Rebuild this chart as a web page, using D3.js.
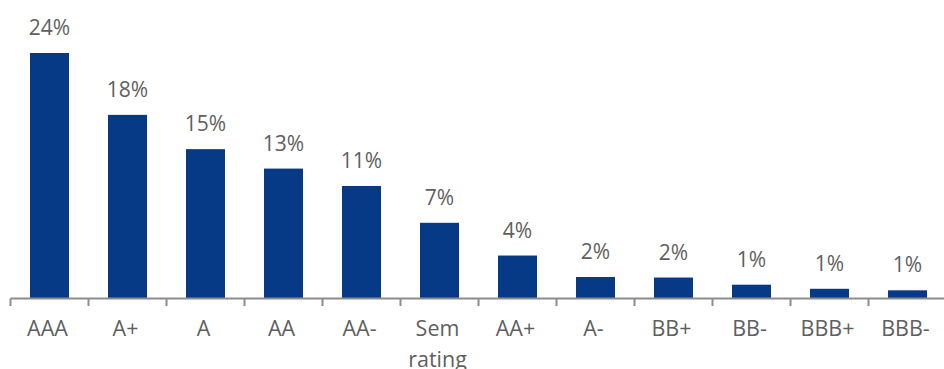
<!DOCTYPE html>
<html><head><meta charset="utf-8">
<script src="https://cdn.jsdelivr.net/npm/d3@7"></script>
<style>body{margin:0;background:#fff;overflow:hidden}svg{display:block}text{font-family:"Open Sans",sans-serif;font-weight:400}</style>
</head><body><svg id="c" width="944" height="369"></svg>
<script>
const categories = ["AAA","A+","A","AA","AA-","Sem rating","AA+","A-","BB+","BB-","BBB+","BBB-"];
const values = [24.0, 17.95, 14.6, 12.7, 11.0, 7.4, 4.2, 2.1, 2.05, 1.35, 0.95, 0.8];

const svg = d3.select("#c");
const x = d3.scaleBand().domain(categories).range([10.5, 946.5]).paddingInner(0.5).paddingOuter(0.25);
const xb = d3.scaleBand().domain(categories).range([10.5, 946.5]);
const y = d3.scaleLinear().domain([0, 24]).range([298.5, 53]);
const fmt = d => Math.round(d) + "%";

svg.append("g").selectAll("rect").data(values).join("rect")
  .attr("x", (d,i) => x(categories[i]))
  .attr("width", x.bandwidth())
  .attr("y", d => y(d))
  .attr("height", d => y(0) - y(d))
  .attr("fill", "#063a86");

svg.append("g").selectAll("text").data(values).join("text")
  .attr("x", (d,i) => x(categories[i]) + x.bandwidth()/2)
  .attr("y", d => y(d) - 18)
  .attr("text-anchor", "middle")
  .attr("font-size", 21)
  .attr("fill", "#5f5f5f")
  .text(fmt);

const axis = svg.append("g").attr("transform", "translate(0,298.5)")
  .call(d3.axisBottom(xb).tickSize(0).tickFormat(""));
axis.select(".domain").attr("stroke", "#8c8c8c").attr("stroke-width", 2).attr("d", "M10.5,0H944");
const edges = categories.map(c => xb(c));
axis.selectAll("line.edge").data(edges).join("line").attr("class","edge")
  .attr("x1", d => d).attr("x2", d => d).attr("y1", 0).attr("y2", 7.5)
  .attr("stroke", "#8c8c8c").attr("stroke-width", 2);

const lab = svg.append("g").selectAll("text").data(categories).join("text")
  .attr("y", 336)
  .attr("text-anchor", "middle")
  .attr("font-size", 21.5)
  .attr("fill", "#5f5f5f");
lab.each(function(d){
  const parts = d === "Sem rating" ? ["Sem","rating"] : [d];
  d3.select(this).selectAll("tspan").data(parts).join("tspan")
    .attr("x", xb(d) + xb.bandwidth()/2 - 2)
    .attr("dy", (p,j) => j ? 31 : 0)
    .text(p => p);
});
</script></body></html>
